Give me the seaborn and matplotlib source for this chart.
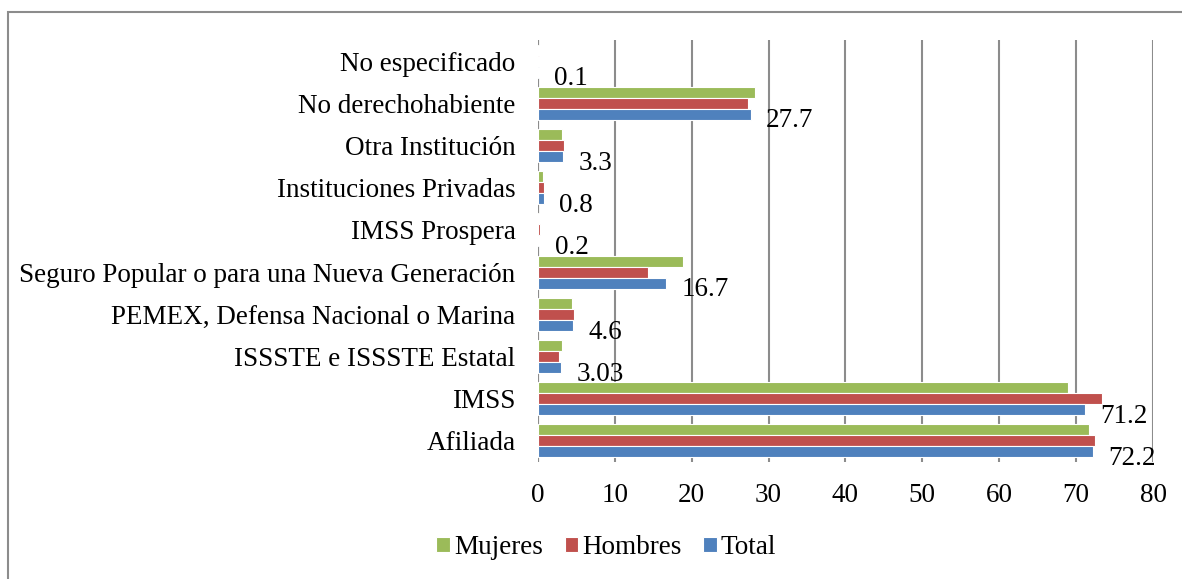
import matplotlib
matplotlib.use("Agg")
import matplotlib.pyplot as plt
import seaborn as sns
import pandas as pd
from matplotlib.patches import Rectangle

categories = ["No especificado", "No derechohabiente", "Otra Institución",
              "Instituciones Privadas", "IMSS Prospera",
              "Seguro Popular o para una Nueva Generación",
              "PEMEX, Defensa Nacional o Marina", "ISSSTE e ISSSTE Estatal",
              "IMSS", "Afiliada"]
series = ["Mujeres", "Hombres", "Total"]
mujeres = [0.1, 28.2, 3.2, 0.7, 0.2, 18.9, 4.4, 3.2, 69.0, 71.7]
hombres = [0.1, 27.3, 3.4, 0.8, 0.3, 14.3, 4.7, 2.7, 73.4, 72.5]
total = [0.1, 27.7, 3.3, 0.8, 0.2, 16.7, 4.6, 3.03, 71.2, 72.2]
total_labels = ["0.1", "27.7", "3.3", "0.8", "0.2", "16.7", "4.6", "3.03", "71.2", "72.2"]
colors = ["#9BBB59", "#C0504D", "#4F81BD"]

rows = []
for i, c in enumerate(categories):
    for s, vals in zip(series, [mujeres, hombres, total]):
        rows.append({"cat": c, "serie": s, "val": vals[i]})
df = pd.DataFrame(rows)

sns.set_style("white")
plt.rcParams["font.family"] = ["Liberation Serif", "DejaVu Serif"]
plt.rcParams["text.color"] = "black"
plt.rcParams["xtick.color"] = "black"
plt.rcParams["ytick.color"] = "black"

FS = 19.5
fig = plt.figure(figsize=(11.82, 5.79), dpi=100)
ax = fig.add_axes([0.455, 0.202, 0.5205, 0.729])
W = 0.78
sns.barplot(data=df, y="cat", x="val", hue="serie", order=categories,
            hue_order=series, palette=colors, saturation=1, orient="h", width=W,
            errorbar=None, ax=ax, edgecolor="white", linewidth=0.8)

ax.set_xlim(0, 80)
ax.set_xticks(range(0, 81, 10))
ax.set_ylim(len(categories) - 0.5, -0.5)
ax.grid(axis="x", color="#8c8c8c", linewidth=1.5)
ax.set_axisbelow(True)
for sp in ax.spines.values():
    sp.set_visible(False)
ax.axvline(0, color="#8c8c8c", linewidth=1.5, zorder=0.5)
ax.set_xlabel("")
ax.set_ylabel("")
ax.tick_params(axis="x", labelsize=FS, length=0, pad=15)
ax.tick_params(axis="y", labelsize=FS, length=0, pad=16)

# data labels on Total bars
bw = W / 3
for i, (v, lab) in enumerate(zip(total, total_labels)):
    ax.annotate(lab, xy=(v, i + bw + 0.16), xytext=(11, 0),
                textcoords="offset points", fontsize=FS,
                va="center", ha="left")

ax.legend(loc="center", bbox_to_anchor=(0.513, 0.054), bbox_transform=fig.transFigure,
          ncol=3, frameon=False, fontsize=FS, handlelength=0.5, handleheight=0.5,
          handletextpad=0.15, columnspacing=0.8)

fig.patches.append(Rectangle((8 / 1182, -0.1), 1.2, 1 - 12 / 579 + 0.1,
                             transform=fig.transFigure, fill=False,
                             edgecolor="#8c8c8c", linewidth=1.5))
fig.savefig("out.png", dpi=100)
